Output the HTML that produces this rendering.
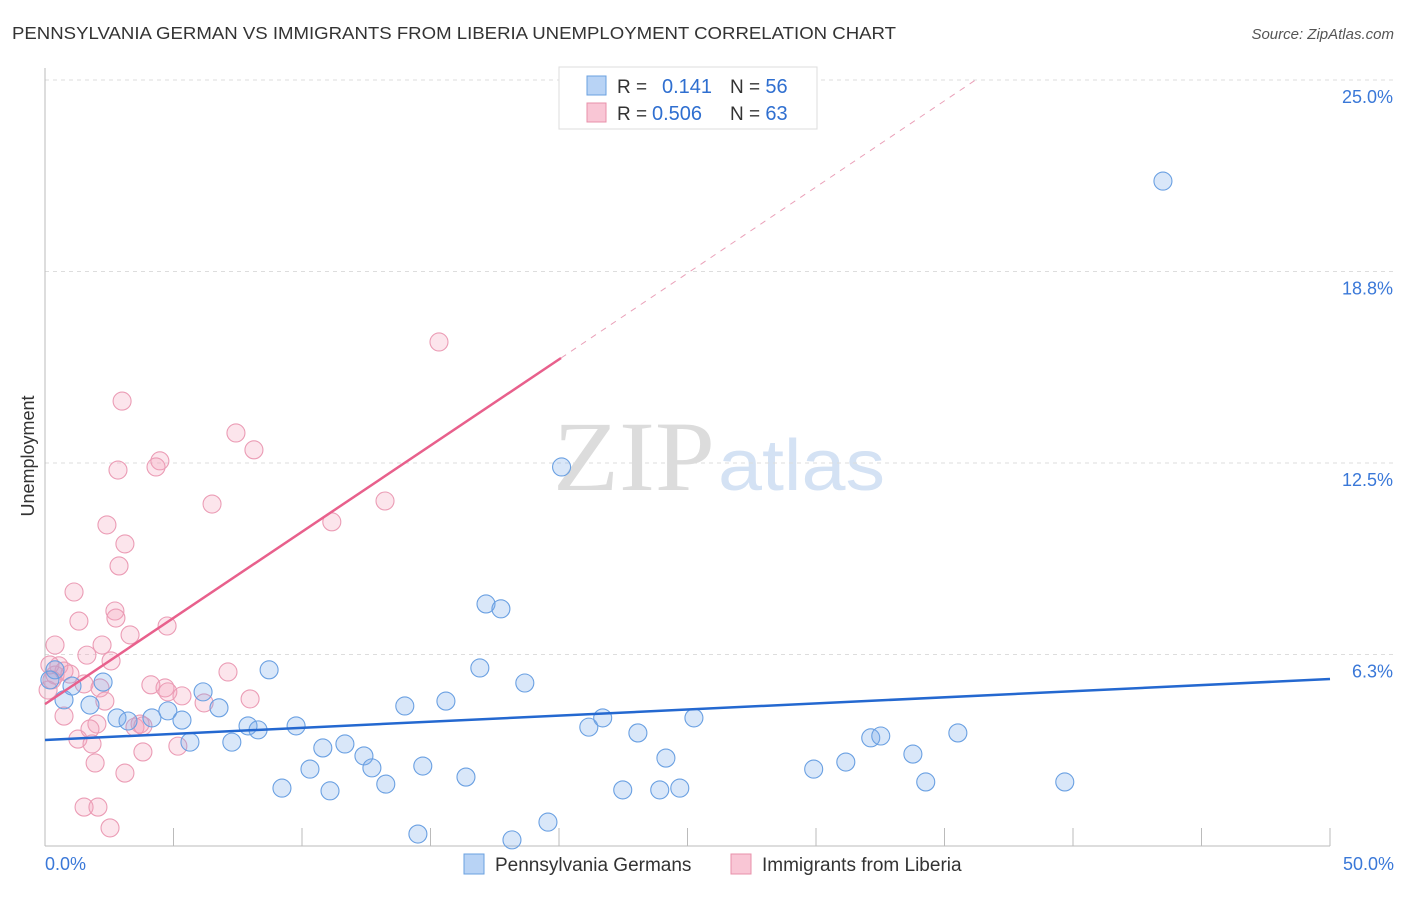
<!DOCTYPE html>
<html><head><meta charset="utf-8"><style>
body{margin:0;background:#fff;font-family:"Liberation Sans",sans-serif;}
svg text{font-family:"Liberation Sans",sans-serif;}
</style></head><body>
<svg id="chart" width="1406" height="892">
<text x="12" y="39" font-size="17.5" fill="#333" textLength="884" lengthAdjust="spacingAndGlyphs">PENNSYLVANIA GERMAN VS IMMIGRANTS FROM LIBERIA UNEMPLOYMENT CORRELATION CHART</text>
<text x="1394" y="39" font-size="15" fill="#555" text-anchor="end" font-style="italic">Source: ZipAtlas.com</text>
<text x="553" y="490" font-size="100" fill="#dcdcdc" textLength="162" lengthAdjust="spacingAndGlyphs" style="font-family:'Liberation Serif',serif">ZIP</text>
<text x="718" y="490" font-size="72" fill="#d4e2f4" textLength="167" lengthAdjust="spacingAndGlyphs">atlas</text>
<g id="grid"></g><g id="axes"></g><g id="marks"></g>
<text transform="translate(34,456) rotate(-90)" font-size="18" fill="#333" text-anchor="middle">Unemployment</text>
<g>
<rect x="559" y="67" width="258" height="62" fill="#fff" stroke="#ddd"/>
<rect x="587" y="76" width="19" height="19" fill="#b8d3f5" stroke="#6aa0e0"/>
<rect x="587" y="103" width="19" height="19" fill="#f9c6d5" stroke="#e890aa"/>
<text x="617" y="93" font-size="19" fill="#333">R = <tspan fill="#2f6fd0" x="662" font-size="20">0.141</tspan><tspan x="730">N = </tspan><tspan fill="#2f6fd0" font-size="20">56</tspan></text>
<text x="617" y="120" font-size="19" fill="#333">R = <tspan fill="#2f6fd0" x="652" font-size="20">0.506</tspan><tspan x="730">N = </tspan><tspan fill="#2f6fd0" font-size="20">63</tspan></text>
</g>
<g>
<rect x="464" y="854" width="20" height="20" fill="#b8d3f5" stroke="#6aa0e0"/>
<text x="495" y="871" font-size="19" fill="#333">Pennsylvania Germans</text>
<rect x="731" y="854" width="20" height="20" fill="#f9c6d5" stroke="#e890aa"/>
<text x="762" y="871" font-size="19" fill="#333">Immigrants from Liberia</text>
</g>
</svg>
<script>
const yTicks=[6.25,12.5,18.75,25];
const yTickLabels=["6.3%","12.5%","18.8%","25.0%"];
const xTickLabels=["0.0%","50.0%"];
const blueX=[43.5,20.1,17.16,17.74,8.72,16.92,18.67,6.15,2.26,0.74,1.75,6.77,14.0,15.6,4.78,4.16,2.8,3.23,5.33,7.9,8.29,9.77,21.16,21.7,25.25,23.07,7.27,5.64,10.81,11.67,12.41,12.72,10.31,9.22,11.09,13.26,14.7,16.38,24.16,22.48,23.92,24.7,29.91,31.16,32.13,32.52,33.77,34.27,35.52,39.68,14.51,18.17,19.57,0.39,0.19,1.05];
const blueY=[21.7,12.37,7.9,7.74,5.75,5.81,5.32,5.03,5.35,4.77,4.6,4.51,4.57,4.73,4.41,4.18,4.18,4.08,4.11,3.92,3.79,3.92,3.88,4.18,4.18,3.69,3.39,3.39,3.2,3.33,2.94,2.55,2.51,1.89,1.8,2.02,2.61,2.25,2.87,1.83,1.83,1.89,2.51,2.74,3.53,3.59,3.0,2.09,3.69,2.09,0.39,0.2,0.78,5.75,5.42,5.22];
const pinkX=[15.33,3.0,7.43,8.13,4.47,2.84,4.32,6.5,13.23,2.41,11.16,3.11,2.88,1.13,2.72,1.32,2.76,4.75,3.31,0.39,2.22,1.63,2.57,0.54,0.74,0.39,0.97,7.12,1.52,2.14,4.12,4.67,4.78,5.33,2.33,7.98,6.19,0.74,2.02,1.75,3.7,3.5,3.81,1.28,1.83,3.81,5.17,1.95,3.11,1.52,2.06,2.53,0.19,0.12,0.27];
const pinkY=[16.45,14.52,13.48,12.93,12.57,12.27,12.37,11.16,11.26,10.48,10.58,9.86,9.14,8.29,7.67,7.34,7.44,7.18,6.89,6.56,6.56,6.23,6.04,5.88,5.71,5.58,5.61,5.68,5.29,5.16,5.26,5.16,5.03,4.9,4.73,4.8,4.67,4.24,3.98,3.82,3.98,3.88,3.92,3.49,3.33,3.07,3.26,2.71,2.38,1.27,1.27,0.59,5.91,5.09,5.42];
const blueTrend=[3.46,5.45];
const pinkTrend=[4.63,0.5626];
const X0=45,X1=1330,Y0=846,Y25=80;
const sx=v=>X0+(X1-X0)*v/50;
const sy=v=>Y0-(Y0-Y25)*v/25;
const NS="http://www.w3.org/2000/svg";
function mk(tag,attrs,parent){const e=document.createElementNS(NS,tag);for(const k in attrs)e.setAttribute(k,attrs[k]);parent.appendChild(e);return e;}
const grid=document.getElementById('grid'),axes=document.getElementById('axes'),marks=document.getElementById('marks');
yTicks.forEach((t,i)=>{
 const l=mk('line',{x1:X0,x2:1394,y1:sy(t),y2:sy(t),stroke:'#ddd','stroke-dasharray':'4,4'},grid);
 
 
 const tx=mk('text',{x:1393,y:sy(t)+23,'font-size':18,fill:'#3a78d8','text-anchor':'end'},axes);
 tx.textContent=yTickLabels[i];
 
 
});
const ax=mk('line',{x1:X0,x2:X0,y1:68,y2:Y0,stroke:'#bbb'},axes);


const bx=mk('line',{x1:X0,x2:X1,y1:Y0,y2:Y0,stroke:'#bbb'},axes);


for(let i=1;i<=10;i++){const t=mk('line',{x1:sx(i*5),x2:sx(i*5),y1:Y0-18,y2:Y0,stroke:'#bbb'},axes);
 
 }
[[0,'start',45],[50,'end',1394]].forEach((d,i)=>{const t=mk('text',{x:d[2],y:870,'font-size':18,fill:'#3a78d8','text-anchor':d[1]},axes);t.textContent=xTickLabels[i];
 
 });
function dots(xs,ys,fill,stroke,name){xs.forEach((x,i)=>{const c=mk('circle',{cx:sx(x),cy:sy(ys[i]),r:9,fill:fill,stroke:stroke,'stroke-width':1.1},marks);
 
 });}
dots(pinkX,pinkY,'rgba(244,160,188,0.28)','#eb9cb5','liberia-point');
dots(blueX,blueY,'rgba(120,170,235,0.28)','#6aa0e2','pennsylvania-point');
const bl=mk('line',{x1:sx(0),y1:sy(blueTrend[0]),x2:sx(50),y2:sy(blueTrend[1]),stroke:'#2468d0','stroke-width':2.5},marks);


const pf=x=>pinkTrend[0]+pinkTrend[1]*x;
const pl=mk('line',{x1:sx(0),y1:sy(pf(0)),x2:sx(20.08),y2:sy(pf(20.08)),stroke:'#e8608c','stroke-width':2.5},marks);


const pd=mk('line',{x1:sx(20.08),y1:sy(pf(20.08)),x2:sx(36.2),y2:sy(pf(36.2)),stroke:'#eaa0b8','stroke-width':1,'stroke-dasharray':'6,6'},marks);


</script>
</body></html>
